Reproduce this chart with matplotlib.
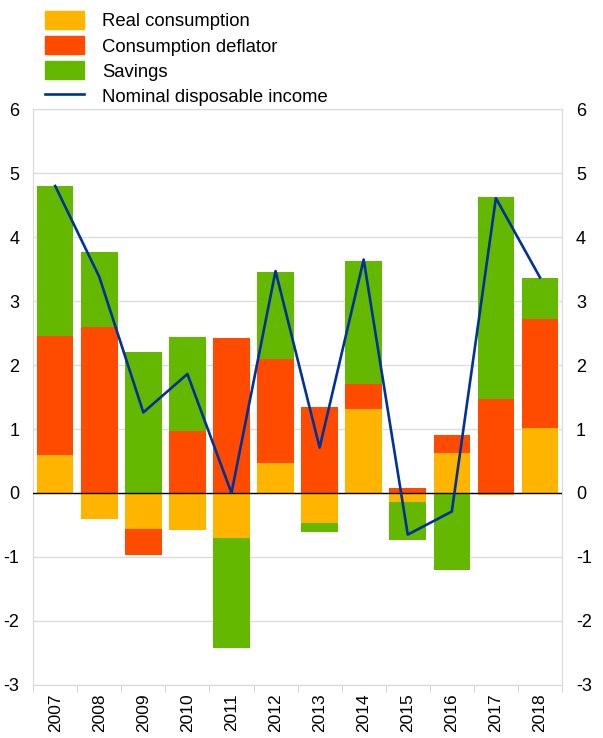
import numpy as np
import matplotlib
matplotlib.use('Agg')
import matplotlib.pyplot as plt
from matplotlib.patches import Patch
from matplotlib.lines import Line2D

plt.rcParams['font.family'] = ['Liberation Sans', 'DejaVu Sans']
plt.rcParams['axes.unicode_minus'] = False

years = ['2007', '2008', '2009', '2010', '2011', '2012',
         '2013', '2014', '2015', '2016', '2017', '2018']
real_cons = [0.60, -0.40, -0.57, -0.58, -0.70, 0.47, -0.47, 1.32, -0.14, 0.63, -0.03, 1.01]
deflator = [1.85, 2.59, -0.40, 0.97, 2.42, 1.63, 1.34, 0.39, 0.08, 0.27, 1.47, 1.71]
savings = [2.35, 1.18, 2.21, 1.47, -1.72, 1.36, -0.14, 1.92, -0.60, -1.20, 3.16, 0.64]
nominal_income = [4.80, 3.38, 1.26, 1.86, 0.0, 3.47, 0.71, 3.65, -0.65, -0.29, 4.61, 3.37]

c_yellow = '#FFB400'
c_red = '#FF4B00'
c_green = '#65B800'
c_blue = '#003299'

fig = plt.figure(figsize=(6.03, 7.38), dpi=100)
ax = fig.add_axes([0.055, 0.072, 0.877, 0.780])

x = np.arange(len(years))
width = 0.83

# positives and negatives stack separately
pos_base = np.zeros(len(years))
neg_base = np.zeros(len(years))
for vals, col in [(real_cons, c_yellow), (deflator, c_red), (savings, c_green)]:
    vals = np.array(vals)
    bottoms = np.where(vals >= 0, pos_base, neg_base)
    ax.bar(x, vals, width, bottom=bottoms, color=col, zorder=2)
    pos_base = pos_base + np.where(vals >= 0, vals, 0)
    neg_base = neg_base + np.where(vals < 0, vals, 0)

ax.plot(x, nominal_income, color=c_blue, lw=1.9, zorder=4)
ax.axhline(0, color='black', lw=1, zorder=3)

ax.set_xlim(-0.5, len(years) - 0.5)
ax.set_ylim(-3, 6)
ax.set_yticks(range(-3, 7))
ax.yaxis.grid(True, color='#dddddd', lw=1, zorder=0)
ax.set_axisbelow(True)

ax.set_xticks(x)
ax.set_xticklabels(years, rotation=90, fontsize=12.5)
ax.set_xticks(np.arange(-0.5, len(years), 1), minor=True)
ax.tick_params(axis='x', which='major', length=0, pad=6)
ax.tick_params(axis='x', which='minor', length=5, color='#cccccc')
ax.tick_params(axis='y', length=0, labelsize=13, labelright=True, pad=10)

for s in ax.spines.values():
    s.set_color('#d9d9d9')

handles = [Patch(color=c_yellow), Patch(color=c_red), Patch(color=c_green),
           Line2D([], [], color=c_blue, lw=1.9)]
labels = ['Real consumption', 'Consumption deflator', 'Savings', 'Nominal disposable income']
fig.legend(handles, labels, loc='upper left', bbox_to_anchor=(0.075, 0.985),
           frameon=False, fontsize=13.3, handlelength=2.1, handleheight=1.14,
           labelspacing=0.31, handletextpad=0.97, borderpad=0, borderaxespad=0)

fig.savefig('out.png', dpi=100)
